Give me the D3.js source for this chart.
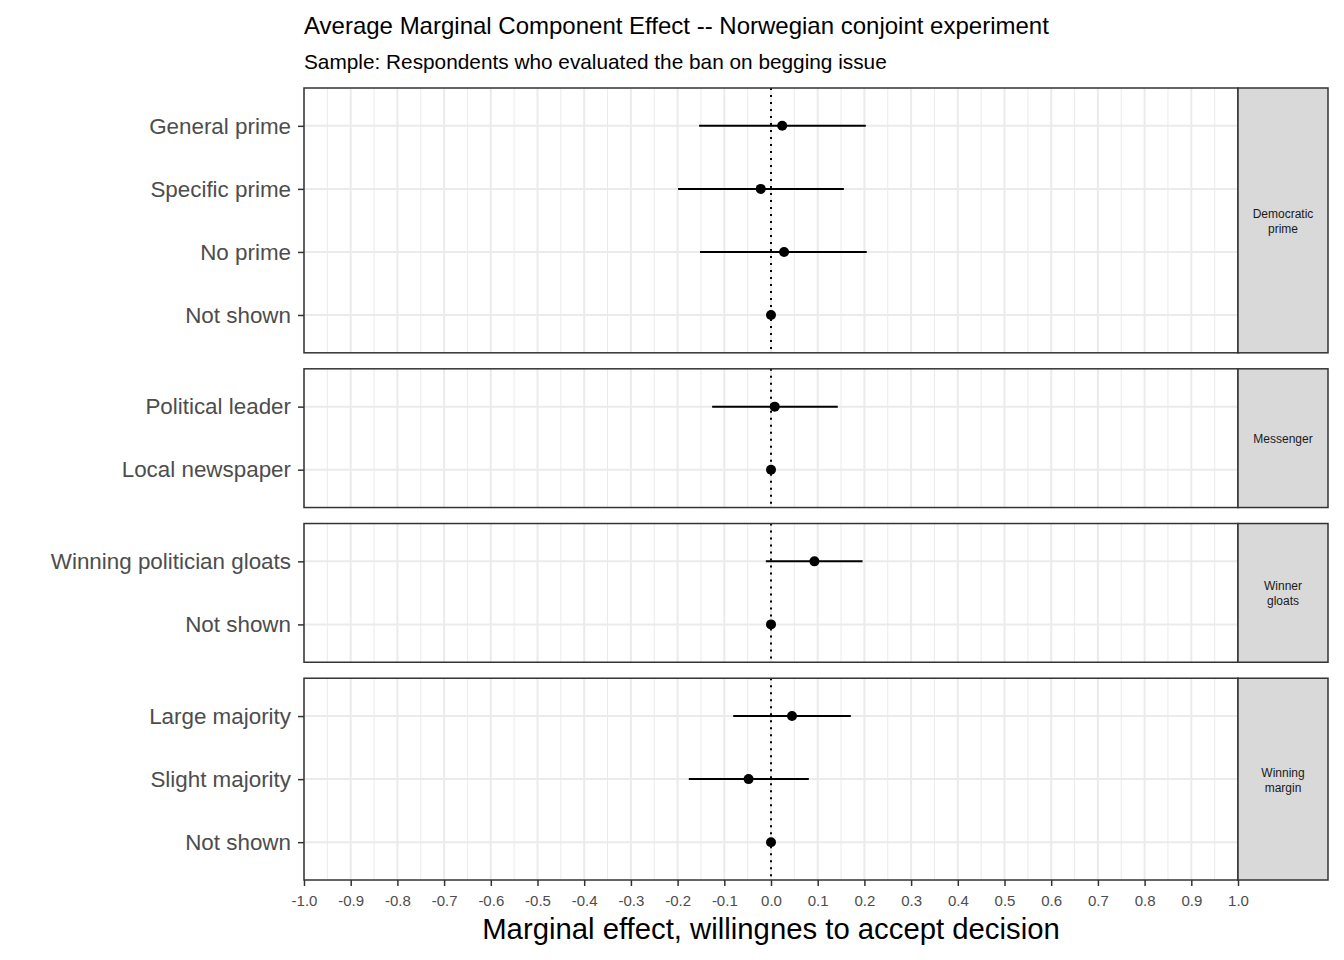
<!DOCTYPE html>
<html>
<head>
<meta charset="utf-8">
<script src="https://cdn.jsdelivr.net/npm/d3@7"></script>
<style>
  body { margin: 0; background: #fff; }
  svg { font-family: "Liberation Sans", Arial, sans-serif; }
</style>
</head>
<body>
<svg id="chart" width="1344" height="960"></svg>
<script>
// facet groups (strip labels, top to bottom)
const groups = ['Democratic prime', 'Messenger', 'Winner gloats', 'Winning margin'];
const stripLines = [['Democratic', 'prime'], ['Messenger'], ['Winner', 'gloats'], ['Winning', 'margin']];

// attribute levels, one row each
const levels = ['General prime', 'Specific prime', 'No prime', 'Not shown',
  'Political leader', 'Local newspaper',
  'Winning politician gloats', 'Not shown',
  'Large majority', 'Slight majority', 'Not shown'];
const groupOf = [0, 0, 0, 0, 1, 1, 2, 2, 3, 3, 3];
const estimate = [0.024, -0.022, 0.028, 0, 0.008, 0, 0.093, 0, 0.045, -0.048, 0];
const lower = [-0.154, -0.199, -0.152, 0, -0.126, 0, -0.011, 0, -0.081, -0.176, 0];
const upper = [0.203, 0.156, 0.205, 0, 0.143, 0, 0.196, 0, 0.171, 0.081, 0];

const xTicks = d3.range(-10, 11).map(d => d / 10);

const svg = d3.select('#chart');
const plotL = 304, plotR = 1238, plotT = 88, plotB = 880, gap = 16, stripW = 90;

const x = d3.scaleLinear().domain([-1, 1]).range([plotL, plotR]);
const fmt = d => d3.format('.1f')(d).replace('\u2212', '-');

// panel heights proportional to number of rows (ggplot space = "free")
const rows = groups.map((g, gi) => levels.map((l, i) => ({ level: l, i })).filter(d => groupOf[d.i] === gi));
const units = rows.map(r => r.length - 1 + 1.2);
const unit = (plotB - plotT - gap * (groups.length - 1)) / d3.sum(units);

let y0 = plotT;
const panels = rows.map((r, gi) => {
  const h = units[gi] * unit;
  const p = { gi, top: y0, h, rows: r };
  p.y = d3.scalePoint().domain(r.map(d => d.i)).range([y0, y0 + h]).padding(0.6);
  y0 += h + gap;
  return p;
});

const minor = d3.range(-19, 20, 2).map(d => d / 20);

panels.forEach(p => {
  const g = svg.append('g');
  g.append('rect').attr('x', plotL).attr('y', p.top).attr('width', plotR - plotL).attr('height', p.h).attr('fill', '#fff');

  g.selectAll('.minor').data(minor).join('line')
    .attr('x1', d => x(d)).attr('x2', d => x(d))
    .attr('y1', p.top).attr('y2', p.top + p.h)
    .attr('stroke', '#ebebeb').attr('stroke-width', 1);
  g.selectAll('.major').data(xTicks).join('line')
    .attr('x1', d => x(d)).attr('x2', d => x(d))
    .attr('y1', p.top).attr('y2', p.top + p.h)
    .attr('stroke', '#ebebeb').attr('stroke-width', 2);
  g.selectAll('.hgrid').data(p.rows).join('line')
    .attr('x1', plotL).attr('x2', plotR)
    .attr('y1', d => p.y(d.i)).attr('y2', d => p.y(d.i))
    .attr('stroke', '#ebebeb').attr('stroke-width', 2);

  // zero reference line
  g.append('line').attr('x1', x(0)).attr('x2', x(0))
    .attr('y1', p.top).attr('y2', p.top + p.h)
    .attr('stroke', '#000').attr('stroke-width', 2).attr('stroke-dasharray', '2,5');

  // intervals and points
  g.selectAll('.ci').data(p.rows).join('line')
    .attr('x1', d => x(lower[d.i])).attr('x2', d => x(upper[d.i]))
    .attr('y1', d => p.y(d.i)).attr('y2', d => p.y(d.i))
    .attr('stroke', '#000').attr('stroke-width', 2);
  g.selectAll('.pt').data(p.rows).join('circle')
    .attr('cx', d => x(estimate[d.i])).attr('cy', d => p.y(d.i)).attr('r', 5)
    .attr('fill', '#000');

  g.append('rect').attr('x', plotL).attr('y', p.top).attr('width', plotR - plotL).attr('height', p.h)
    .attr('fill', 'none').attr('stroke', '#333').attr('stroke-width', 1.5);

  // y axis
  const ya = g.append('g').attr('transform', `translate(${plotL},0)`)
    .call(d3.axisLeft(p.y).tickFormat(i => levels[i]).tickSize(6).tickPadding(7));
  ya.select('.domain').remove();
  ya.selectAll('.tick line').attr('stroke', '#333').attr('stroke-width', 1.5);
  ya.selectAll('.tick text').attr('fill', '#4d4d4d').style('font-size', '22.4px');

  // strip
  g.append('rect').attr('x', plotR).attr('y', p.top).attr('width', stripW).attr('height', p.h)
    .attr('fill', '#d9d9d9').attr('stroke', '#333').attr('stroke-width', 1.5);
  const lines = stripLines[p.gi];
  const st = g.append('text').attr('text-anchor', 'middle').attr('fill', '#1a1a1a')
    .style('font-size', '12px');
  lines.forEach((t, k) => {
    st.append('tspan').attr('x', plotR + stripW / 2)
      .attr('y', p.top + p.h / 2 + (k - (lines.length - 1) / 2) * 15 + 5)
      .text(t);
  });
});

// x axis
const xa = svg.append('g').attr('transform', `translate(0,${plotB})`)
  .call(d3.axisBottom(x).tickValues(xTicks).tickFormat(fmt).tickSize(6).tickPadding(9));
xa.select('.domain').remove();
xa.selectAll('.tick line').attr('stroke', '#333').attr('stroke-width', 1.5);
xa.selectAll('.tick text').attr('fill', '#4d4d4d').style('font-size', '15px');

svg.append('text').attr('x', x(0)).attr('y', 939).attr('text-anchor', 'middle')
  .attr('fill', '#000').style('font-size', '29.3px')
  .text('Marginal effect, willingnes to accept decision');

svg.append('text').attr('x', plotL).attr('y', 34).attr('fill', '#000').style('font-size', '24px')
  .text('Average Marginal Component Effect -- Norwegian conjoint experiment');
svg.append('text').attr('x', plotL).attr('y', 69).attr('fill', '#000').style('font-size', '20.8px')
  .text('Sample: Respondents who evaluated the ban on begging issue');
</script>
</body>
</html>
